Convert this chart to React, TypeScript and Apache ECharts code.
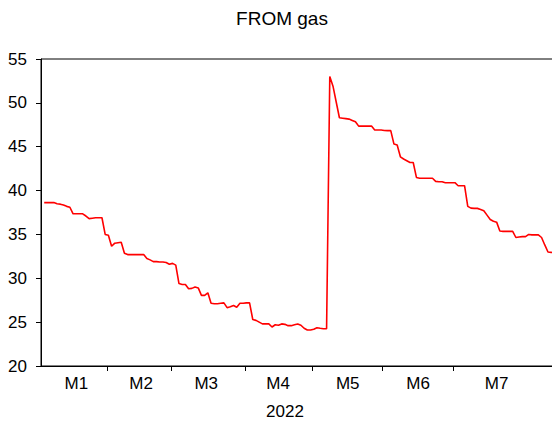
import React, { useEffect, useRef } from "react";
import * as echarts from "echarts";

const chartTitle = "FROM gas";
const yearLabel = "2022";
const monthLabels = ["M1", "M2", "M3", "M4", "M5", "M6", "M7"];
// observation index (weekday count from 3 Jan 2022) where months change
const monthBoundaries = [20.5, 40.5, 63.5, 84.5, 106.5, 128.5];
// observation index under which each month label sits
const monthLabelAt = [11, 31.2, 51.5, 73.9, 95.6, 117.5, 142];
const yTicks = [20, 25, 30, 35, 40, 45, 50, 55];

// daily (weekday) values, Jan 3 2022 onward
const values: (number | null)[] = [
  null, 38.63, 38.63, 38.63, 38.63, 38.5, 38.45, 38.35, 38.2, 38.1,
  37.35, 37.35, 37.35, 37.35, 37.1, 36.8, 36.85, 36.9, 36.9, 36.9,
  35.0, 34.9, 33.65, 34.0, 34.05, 34.1, 32.85, 32.7, 32.7, 32.7,
  32.7, 32.7, 32.7, 32.25, 32.1, 31.9, 31.9, 31.85, 31.85, 31.8,
  31.6, 31.7, 31.5, 29.4, 29.3, 29.3, 28.8, 28.85, 29.0, 28.9,
  28.05, 28.05, 28.35, 27.15, 27.1, 27.1, 27.15, 27.2, 26.65, 26.75,
  26.9, 26.7, 27.15, 27.15, 27.2, 27.2, 25.3, 25.2, 25.0, 24.8,
  24.8, 24.8, 24.45, 24.7, 24.65, 24.8, 24.75, 24.6, 24.6, 24.7,
  24.8, 24.65, 24.3, 24.1, 24.1, 24.2, 24.37, 24.3, 24.25, 24.25,
  53.0, 51.9, 50.1, 48.3, 48.25, 48.2, 48.15, 48.0, 47.85, 47.35,
  47.35, 47.35, 47.35, 47.35, 46.9, 46.9, 46.9, 46.85, 46.83, 46.83,
  45.3, 45.2, 43.85, 43.6, 43.4, 43.2, 43.2, 41.5, 41.4, 41.4,
  41.4, 41.4, 41.4, 41.05, 41.0, 41.0, 40.9, 40.9, 40.9, 40.9,
  40.55, 40.55, 40.55, 38.2, 38.0, 37.97, 37.97, 37.85, 37.7, 37.2,
  36.7, 36.5, 36.4, 35.4, 35.35, 35.35, 35.35, 35.35, 34.65, 34.7,
  34.75, 34.75, 35.0, 34.95, 34.95, 34.95, 34.65, 33.8, 33.0, 32.95,
  32.9,
];

const FONT = "'Liberation Sans', Arial, sans-serif";

export default function App() {
  const ref = useRef<HTMLDivElement>(null);
  useEffect(() => {
    if (!ref.current) return;
    const chart = echarts.init(ref.current, null, { renderer: "svg" });
    const seriesData = values.map((v, i) => [i, v]);
    chart.setOption({
      animation: false,
      backgroundColor: "#ffffff",
      textStyle: { fontFamily: FONT },
      grid: {
        left: 41,
        top: 59,
        width: 513.4,
        height: 307,
        show: true,
        borderColor: "#000000",
        borderWidth: 1,
        containLabel: false,
        outerBoundsMode: "none",
      },
      graphic: [
        {
          type: "text",
          x: 282,
          y: 9,
          style: {
            text: chartTitle,
            font: `19px ${FONT}`,
            fill: "#000000",
            textAlign: "center",
            textVerticalAlign: "top",
          },
        },
        {
          type: "text",
          x: 285,
          y: 403,
          style: {
            text: yearLabel,
            font: `17px ${FONT}`,
            fill: "#000000",
            textAlign: "center",
            textVerticalAlign: "top",
          },
        },
      ],
      xAxis: {
        type: "value",
        min: 0,
        max: values.length - 1,
        splitLine: { show: false },
        axisLine: { show: true, onZero: false, lineStyle: { color: "#000000", width: 1 } },
        axisTick: {
          show: true,
          inside: false,
          length: 5,
          customValues: monthBoundaries,
          lineStyle: { color: "#000000" },
        },
        axisLabel: {
          show: true,
          customValues: monthLabelAt,
          margin: 9,
          fontSize: 17,
          color: "#000000",
          fontFamily: FONT,
          formatter: (v: number) => {
            let best = 0;
            monthLabelAt.forEach((p, k) => {
              if (Math.abs(p - v) < Math.abs(monthLabelAt[best] - v)) best = k;
            });
            return monthLabels[best];
          },
        },
      },
      yAxis: {
        type: "value",
        min: yTicks[0],
        max: yTicks[yTicks.length - 1],
        interval: 5,
        splitLine: { show: false },
        axisLine: { show: true, lineStyle: { color: "#000000", width: 1 } },
        axisTick: { show: true, inside: false, length: 5, lineStyle: { color: "#000000" } },
        axisLabel: {
          margin: 14,
          fontSize: 17,
          color: "#000000",
          fontFamily: FONT,
        },
      },
      series: [
        {
          type: "line",
          data: seriesData,
          showSymbol: false,
          connectNulls: false,
          lineStyle: { color: "#ff0000", width: 1.6 },
          itemStyle: { color: "#ff0000" },
        },
      ],
    });
    return () => chart.dispose();
  }, []);
  return <div ref={ref} style={{ width: 552, height: 425, position: "absolute", left: 0, top: 0 }} />;
}
